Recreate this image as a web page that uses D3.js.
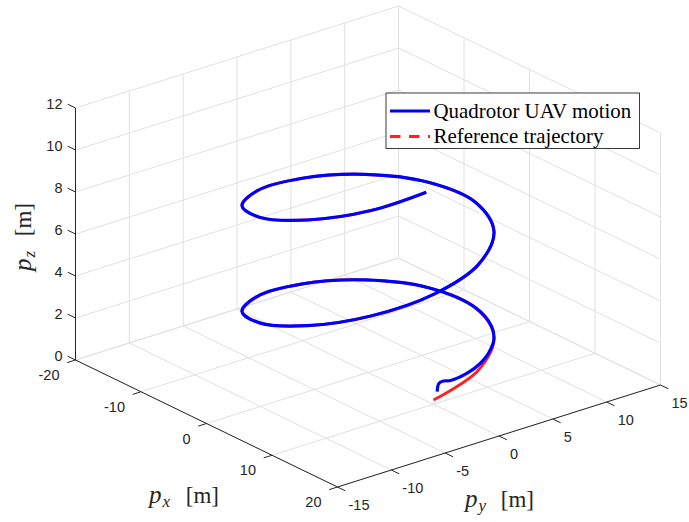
<!DOCTYPE html>
<html>
<head>
<meta charset="utf-8">
<script src="https://cdn.jsdelivr.net/npm/d3@7"></script>
<style>
  html, body { margin: 0; padding: 0; background: #fff; }
  svg { display: block; }
</style>
</head>
<body>
<svg id="chart" width="689" height="522"></svg>
<script>
// Axis ticks (metres)
const xTicks = [-20, -10, 0, 10, 20];
const yTicks = [-15, -10, -5, 0, 5, 10, 15];
const zTicks = [0, 2, 4, 6, 8, 10, 12];

// Reference helix, sampled every 30 degrees (last sample at t = 25 s)
const refX = [10, 8.66, 5.0, 0, -5.0, -8.66, -10, -8.66, -5.0, 0, 5.0, 8.66,
              10, 8.66, 5.0, 0, -5.0, -8.66, -10, -8.66, -5.0, 0, 5.0, 8.66, 9.98];
const refY = [0, 5.0, 8.66, 10, 8.66, 5.0, 0, -5.0, -8.66, -10, -8.66, -5.0,
              0, 5.0, 8.66, 10, 8.66, 5.0, 0, -5.0, -8.66, -10, -8.66, -5.0, -0.66];
const refZ = [0.20, 0.62, 1.04, 1.46, 1.88, 2.29, 2.71, 3.13, 3.55, 3.97, 4.39, 4.81,
              5.23, 5.65, 6.06, 6.48, 6.90, 7.32, 7.74, 8.16, 8.58, 9.00, 9.42, 9.83, 10.20];

// Quadrotor position (take-off transient, then tracking)
const uavX = [9.99, 9.99, 9.95, 9.86, 9.36, 8.49, 7.46, 5.74, 3.42, 0, -5.0, -8.66,
              -10, -8.66, -5.0, 0, 5.0, 8.66, 10, 8.66, 5.0, 0, -5.0, -8.66,
              -10, -8.66, -5.0, 0, 5.0, 8.66, 9.98];
const uavY = [0.35, 0.51, 0.99, 1.67, 3.52, 5.28, 6.65, 8.19, 9.40, 10, 8.66, 5.0,
              0, -5.0, -8.66, -10, -8.66, -5.0, 0, 5.0, 8.66, 10, 8.66, 5.0,
              0, -5.0, -8.66, -10, -8.66, -5.0, -0.66];
const uavZ = [0.54, 0.91, 0.94, 0.84, 0.81, 0.87, 0.97, 1.08, 1.19, 1.46, 1.88, 2.29,
              2.71, 3.13, 3.55, 3.97, 4.39, 4.81, 5.23, 5.65, 6.06, 6.48, 6.90, 7.32,
              7.74, 8.16, 8.58, 9.00, 9.42, 9.83, 10.20];

const seriesNames = ["Quadrotor UAV motion", "Reference trajectory"];
const seriesColors = ["#0000ff", "#ff2020"];

const svg = d3.select("#chart");

// Oblique 3-D view: each data axis maps onto a screen direction
const xAlong = d3.scaleLinear().domain([-20, 20]).range([0, 1]);
const yAlong = d3.scaleLinear().domain([-15, 15]).range([0, 1]);
const zUp = d3.scaleLinear().domain([0, 12]).range([0, -252]);
const origin = [75.5, 360];      // corner (xmin, ymin, zmin)
const ex = [262, 127];           // xmin -> xmax
const ey = [323, -102];          // ymin -> ymax

function proj(x, y, z) {
  const u = xAlong(x), v = yAlong(y);
  return [origin[0] + u * ex[0] + v * ey[0],
          origin[1] + u * ex[1] + v * ey[1] + zUp(z)];
}

const xMin = -20, xMax = 20, yMin = -15, yMax = 15, zMin = 0, zMax = 12;

// ---- grid on the three back planes ----
const gridSegs = [];
xTicks.forEach(x => gridSegs.push([[x, yMin, zMin], [x, yMax, zMin]]));
yTicks.forEach(y => gridSegs.push([[xMin, y, zMin], [xMax, y, zMin]]));
yTicks.forEach(y => gridSegs.push([[xMin, y, zMin], [xMin, y, zMax]]));
zTicks.forEach(z => gridSegs.push([[xMin, yMin, z], [xMin, yMax, z]]));
xTicks.forEach(x => gridSegs.push([[x, yMax, zMin], [x, yMax, zMax]]));
zTicks.forEach(z => gridSegs.push([[xMin, yMax, z], [xMax, yMax, z]]));

svg.append("g").attr("class", "grid")
  .selectAll("line").data(gridSegs).join("line")
  .attr("x1", d => proj(...d[0])[0]).attr("y1", d => proj(...d[0])[1])
  .attr("x2", d => proj(...d[1])[0]).attr("y2", d => proj(...d[1])[1])
  .attr("stroke", "#e0e0e0").attr("stroke-width", 1);

// ---- axis lines ----
const axisColor = "#262626";
const axisSegs = [
  [[xMin, yMin, zMin], [xMax, yMin, zMin]],
  [[xMax, yMin, zMin], [xMax, yMax, zMin]],
  [[xMin, yMin, zMin], [xMin, yMin, zMax]]
];
const axes = svg.append("g").attr("class", "axes");
axes.selectAll("line.axis").data(axisSegs).join("line").attr("class", "axis")
  .attr("x1", d => proj(...d[0])[0]).attr("y1", d => proj(...d[0])[1])
  .attr("x2", d => proj(...d[1])[0]).attr("y2", d => proj(...d[1])[1])
  .attr("stroke", axisColor).attr("stroke-width", 1);

// tick marks point away from the box
const tickLen = 8.7;
function unit(v) { const n = Math.hypot(v[0], v[1]); return [v[0] / n, v[1] / n]; }
const ux = unit(ex), uy = unit(ey);

const tickSpecs = [];
xTicks.forEach(x => tickSpecs.push({ p: proj(x, yMin, zMin), d: [-uy[0], -uy[1]] }));
yTicks.forEach(y => tickSpecs.push({ p: proj(xMax, y, zMin), d: [ux[0], ux[1]] }));
zTicks.forEach(z => tickSpecs.push({ p: proj(xMin, yMin, z), d: [-ux[0], -ux[1]] }));
axes.selectAll("line.tick").data(tickSpecs).join("line").attr("class", "tick")
  .attr("x1", d => d.p[0]).attr("y1", d => d.p[1])
  .attr("x2", d => d.p[0] + d.d[0] * tickLen).attr("y2", d => d.p[1] + d.d[1] * tickLen)
  .attr("stroke", axisColor).attr("stroke-width", 1);

// tick labels
const tickFont = "'Liberation Sans', Arial, Helvetica, sans-serif";
const labels = svg.append("g").attr("font-family", tickFont).attr("font-size", 14.5)
  .attr("fill", axisColor);
labels.selectAll("text.xt").data(xTicks).join("text").attr("class", "xt")
  .attr("x", d => proj(d, yMin, zMin)[0] - 16)
  .attr("y", d => proj(d, yMin, zMin)[1] + 15)
  .attr("dy", "0.35em").attr("text-anchor", "end").text(d => d);
labels.selectAll("text.yt").data(yTicks).join("text").attr("class", "yt")
  .attr("x", d => proj(xMax, d, zMin)[0] + 11)
  .attr("y", d => proj(xMax, d, zMin)[1] + 18)
  .attr("dy", "0.35em").attr("text-anchor", "start").text(d => d);
labels.selectAll("text.zt").data(zTicks).join("text").attr("class", "zt")
  .attr("x", d => proj(xMin, yMin, d)[0] - 13)
  .attr("y", d => proj(xMin, yMin, d)[1] - 4)
  .attr("dy", "0.35em").attr("text-anchor", "end").text(d => d);

// ---- axis titles ----
const serif = "'Liberation Serif', 'Times New Roman', serif";
function axisTitle(g, sub) {
  const t = g.append("text").attr("font-family", serif).attr("font-size", 25).attr("fill", axisColor);
  t.append("tspan").attr("font-style", "italic").text("p");
  t.append("tspan").attr("font-style", "italic").attr("font-size", 17).attr("dx", 1).attr("dy", 4).text(sub);
  return t;
}
function unitText(g) {
  return g.append("text").attr("font-family", serif).attr("font-size", 23)
    .attr("fill", axisColor).attr("text-anchor", "end").text("[m]");
}
const gx = svg.append("g").attr("transform", "translate(149,503)");
axisTitle(gx, "x");
unitText(gx).attr("x", 70);

const gy = svg.append("g").attr("transform", "translate(465,507)");
axisTitle(gy, "y");
unitText(gy).attr("x", 69);

const gz = svg.append("g").attr("transform", "translate(31,271) rotate(-90)");
axisTitle(gz, "z");
unitText(gz).attr("x", 68);

// ---- trajectories ----
const line = d3.line().curve(d3.curveCatmullRom.alpha(0.5));
const refPts = refX.map((x, i) => proj(x, refY[i], refZ[i]));
const uavPts = uavX.map((x, i) => proj(x, uavY[i], uavZ[i]));

svg.append("path").attr("d", line(refPts))
  .attr("fill", "none").attr("stroke", seriesColors[1]).attr("stroke-width", 2.8)
  .attr("stroke-linejoin", "round");
svg.append("path").attr("d", line(uavPts))
  .attr("fill", "none").attr("stroke", seriesColors[0]).attr("stroke-width", 3.2)
  .attr("stroke-linejoin", "round");

// ---- legend ----
const lg = svg.append("g").attr("class", "legend");
lg.append("rect").attr("x", 386).attr("y", 93).attr("width", 253.5).attr("height", 55.5)
  .attr("fill", "#fff").attr("stroke", axisColor).attr("stroke-width", 0.9);
const rows = [
  { name: seriesNames[0], color: seriesColors[0], dash: null, y: 111 },
  { name: seriesNames[1], color: seriesColors[1], dash: "10.5,8.5", y: 136.5 }
];
rows.forEach(r => {
  lg.append("line").attr("x1", 390).attr("x2", 430).attr("y1", r.y).attr("y2", r.y)
    .attr("stroke", r.color).attr("stroke-width", 3)
    .attr("stroke-dasharray", r.dash);
  lg.append("text").attr("x", 433.5).attr("y", r.y + 6.5)
    .attr("font-family", serif).attr("font-size", 20.9).attr("fill", "#000")
    .text(r.name);
});
</script>
</body>
</html>
